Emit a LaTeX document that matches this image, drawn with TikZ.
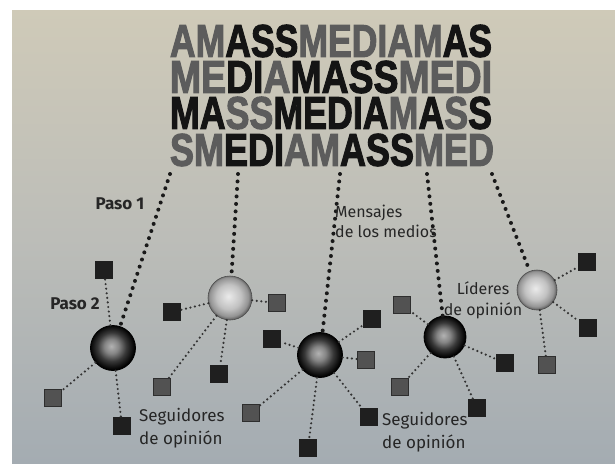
\documentclass[tikz,border=0pt]{standalone}
\usepackage{fontspec}
\usepackage{graphicx}
\usepackage{xcolor}
\usepackage{tikz}
\setmainfont{Fira Sans}
\newfontfamily\headfont[BoldFeatures={FakeBold=2.5}]{Liberation Sans}
\usetikzlibrary{
    shapes,
    shadings
}

\definecolor{papertop}{RGB}{207,202,184}
\definecolor{papermid}{RGB}{188,189,184}
\definecolor{paperbot}{RGB}{164,172,178}

\pgfdeclareradialshading{darkball}{\pgfpoint{-2bp}{2bp}}{color(0bp)=(black!30); color(8bp)=(black!48); color(16bp)=(black!78); color(22bp)=(black!93); color(25bp)=(black); color(50bp)=(black)}
\pgfdeclareradialshading{lightball}{\pgfpoint{-2bp}{2bp}}{color(0bp)=(black!8); color(14bp)=(black!24); color(22bp)=(black!42); color(25bp)=(black!60); color(50bp)=(black!60)}

\newcommand{\hazy}[1]{\textcolor{black!64}{#1}}
\newcommand{\inked}[1]{\textcolor{black!92}{#1}}

\begin{document}
\begin{tikzpicture}[x=1pt, y=-1pt,
    leader dark/.style={circle, shading=darkball, draw=black, line width=0.8pt, inner sep=0pt},
    leader light/.style={circle, shading=lightball, draw=black!70, line width=0.6pt, inner sep=0pt},
    follower dark/.style={rectangle, fill=black!88, minimum size=18pt, inner sep=0pt},
    follower hazy/.style={rectangle, fill=black!68, draw=black!82, line width=0.6pt, minimum size=17pt, inner sep=0pt},
    main dots/.style={black!90, line width=4pt, line cap=round, dash pattern=on 0pt off 7.5pt},
    side dots/.style={black!80, line width=2.4pt, line cap=round, dash pattern=on 0pt off 4.6pt},
    step text/.style={font=\bfseries\fontsize{17}{20}\selectfont, text=black!85, inner sep=0pt},
    group text/.style={font=\fontsize{17}{23}\selectfont, text=black!85, align=left, anchor=west, inner sep=0pt}
    ]
    % page
    \useasboundingbox (0,0) rectangle (615,463);
    \fill[white] (0,0) rectangle (615,463);
    \shade[top color=papertop, bottom color=paperbot, middle color=papermid] (12,10) rectangle (615,463);

    % mass media block
    \node[inner sep=0pt] (row1) at (331,41) {\resizebox{322pt}{32pt}{\headfont\bfseries \hazy{A}\hazy{M}\inked{A}\inked{S}\inked{S}\hazy{M}\hazy{E}\hazy{D}\hazy{I}\hazy{A}\hazy{M}\inked{A}\inked{S}}};
    \node[inner sep=0pt] (row2) at (331,77) {\resizebox{322pt}{32pt}{\headfont\bfseries \hazy{M}\hazy{E}\inked{D}\inked{I}\hazy{A}\inked{M}\inked{A}\inked{S}\inked{S}\hazy{M}\hazy{E}\hazy{D}\hazy{I}}};
    \node[inner sep=0pt] (row3) at (331,113) {\resizebox{322pt}{32pt}{\headfont\bfseries \inked{M}\inked{A}\hazy{S}\hazy{S}\inked{M}\inked{E}\inked{D}\inked{I}\inked{A}\hazy{M}\inked{A}\hazy{S}\inked{S}}};
    \node[inner sep=0pt] (row4) at (332,150) {\resizebox{324pt}{32pt}{\headfont\bfseries \hazy{S}\hazy{M}\inked{E}\inked{D}\inked{I}\hazy{A}\hazy{M}\inked{A}\inked{S}\inked{S}\hazy{M}\hazy{E}\hazy{D}}};

    \coordinate (m1) at (170,174);
    \coordinate (m2) at (238,174);
    \coordinate (m3) at (340,174);
    \coordinate (m4) at (427,174);
    \coordinate (m5) at (492,174);

    % opinion leaders
    \node[leader dark, minimum size=45pt] (lead1) at (113,348) {};
    \node[leader light, minimum size=44pt] (lead2) at (230,298) {};
    \node[leader dark, minimum size=45pt] (lead3) at (320,355) {};
    \node[leader dark, minimum size=42pt] (lead4) at (445,337) {};
    \node[leader light, minimum size=40pt] (lead5) at (537,290) {};

    % followers
    \node[follower dark] (f1a) at (104,270) {};
    \node[follower hazy] (f1b) at (53,398) {};
    \node[follower dark] (f1c) at (122,426) {};

    \node[follower dark] (f2a) at (172,312) {};
    \node[follower hazy] (f2b) at (277,303) {};
    \node[follower hazy] (f2c) at (162,387) {};
    \node[follower dark] (f2d) at (219,374) {};

    \node[follower dark] (f3a) at (272,339) {};
    \node[follower hazy] (f3b) at (251,413) {};
    \node[follower dark] (f3c) at (308,448) {};
    \node[follower dark] (f3d) at (372,319) {};
    \node[follower hazy] (f3e) at (366,360) {};
    \node[follower dark] (f3f) at (369,417) {};

    \node[follower hazy] (f4a) at (402,305) {};
    \node[follower hazy] (f4b) at (400,387) {};
    \node[follower dark] (f4c) at (477,408) {};
    \node[follower dark] (f4d) at (505,363) {};

    \node[follower dark] (f5a) at (587,262) {};
    \node[follower dark] (f5b) at (588,328) {};
    \node[follower hazy] (f5c) at (547,365) {};

    % step 1: media to leaders
    \draw[main dots] (m1)--(lead1);
    \draw[main dots] (m2)--(lead2);
    \draw[main dots] (m3)--(lead3);
    \draw[main dots] (m4)--(lead4);
    \draw[main dots] (m5)--(lead5);

    % step 2: leaders to followers
    \draw[side dots] (lead1)--(f1a);
    \draw[side dots] (lead1)--(f1b);
    \draw[side dots] (lead1)--(f1c);
    \draw[side dots] (lead2)--(f2a);
    \draw[side dots] (lead2)--(f2b);
    \draw[side dots] (lead2)--(f2c);
    \draw[side dots] (lead2)--(f2d);
    \draw[side dots] (lead3)--(f3a);
    \draw[side dots] (lead3)--(f3b);
    \draw[side dots] (lead3)--(f3c);
    \draw[side dots] (lead3)--(f3d);
    \draw[side dots] (lead3)--(f3e);
    \draw[side dots] (lead3)--(f3f);
    \draw[side dots] (lead4)--(f4a);
    \draw[side dots] (lead4)--(f4b);
    \draw[side dots] (lead4)--(f4c);
    \draw[side dots] (lead4)--(f4d);
    \draw[side dots] (lead5)--(f5a);
    \draw[side dots] (lead5)--(f5b);
    \draw[side dots] (lead5)--(f5c);

    % labels
    \node[step text] (paso1) at (120,204) {Paso 1};
    \node[step text] (paso2) at (75,304) {Paso 2};
    \node[group text, font=\fontsize{16}{20}\selectfont] (mensajes) at (335,221) {Mensajes\\de los medios};
    \node[group text] (seguidores1) at (139,428) {Seguidores\\de opinión};
    \node[group text] (seguidores2) at (382,432) {Seguidores\\de opinión};
    \node[group text, align=center, anchor=center, font=\fontsize{16}{21}\selectfont] (lideres) at (483,300) {Líderes\\de opinión};
\end{tikzpicture}
\end{document}
